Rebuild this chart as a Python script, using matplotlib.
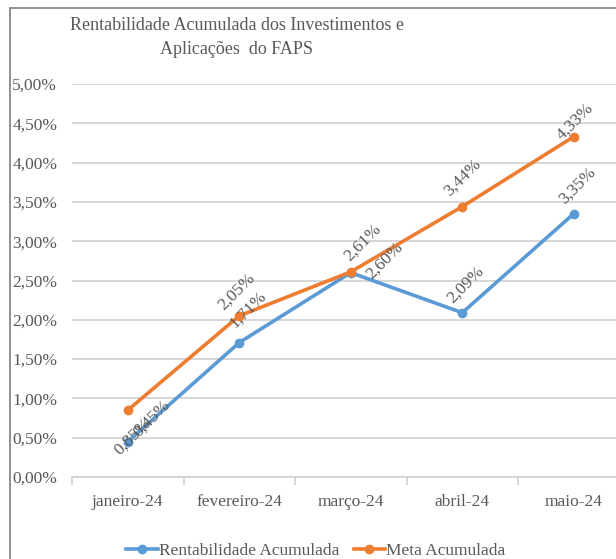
import matplotlib
matplotlib.use("Agg")
import matplotlib.pyplot as plt
from matplotlib.patches import Rectangle
from matplotlib.ticker import FuncFormatter

plt.rcParams['font.family'] = ['Liberation Serif', 'DejaVu Serif']

meses = ['janeiro-24', 'fevereiro-24', 'março-24', 'abril-24', 'maio-24']
rentabilidade = [0.45, 1.71, 2.60, 2.09, 3.35]
meta = [0.85, 2.05, 2.61, 3.44, 4.33]

# label offsets in pixels (dx, dy), as placed in the original
off_rent = [(24, 23), (9, 33), (34, 12), (3, 28), (4, 28)]
off_meta = [(5, -26), (-3, 24), (12, 29), (0, 29), (1, 15)]

azul = '#5B9BD5'
laranja = '#ED7D31'
cinza = '#595959'
grade = '#CFCFCF'

W, H = 616, 559
fig = plt.figure(figsize=(W / 100, H / 100), dpi=100)

# chart border (only left and top edges visible in the crop)
fig.patches.append(Rectangle((10 / W, -0.1), 1.2, (H - 8) / H + 0.1,
                             transform=fig.transFigure, fill=False,
                             edgecolor='#7f7f7f', linewidth=1.2))

ax = fig.add_axes([72 / W, (H - 477) / H, 557.5 / W, 393 / H])
x = range(len(meses))

ax.plot(x, rentabilidade, color=azul, linewidth=2.6, marker='o',
        markersize=6, label='Rentabilidade Acumulada', zorder=3)
ax.plot(x, meta, color=laranja, linewidth=2.6, marker='o',
        markersize=6, label='Meta Acumulada', zorder=3)

def pct(v):
    return f'{v:.2f}%'.replace('.', ',')

for serie, offs in [(rentabilidade, off_rent), (meta, off_meta)]:
    for i, v in enumerate(serie):
        dx, dy = offs[i]
        ax.annotate(pct(v), (i, v), xytext=(dx * 0.72, dy * 0.72),
                    textcoords='offset points', rotation=45,
                    ha='center', va='center', fontsize=12.5,
                    color=cinza, zorder=4)

ax.set_xlim(-0.5, 4.5)
ax.set_ylim(0, 5)
ax.set_yticks([i * 0.5 for i in range(11)])
ax.yaxis.set_major_formatter(FuncFormatter(lambda v, p: pct(v)))
ax.set_xticks(list(x))
ax.set_xticklabels(meses)
ax.set_xticks([i - 0.5 for i in range(6)], minor=True)
ax.grid(axis='y', color=grade, linewidth=1.2)
ax.set_axisbelow(True)
for s in ['top', 'right', 'left']:
    ax.spines[s].set_visible(False)
ax.spines['bottom'].set_color(grade)
ax.spines['bottom'].set_linewidth(1.2)
ax.tick_params(axis='y', length=0, pad=43, labelsize=12.5, labelcolor=cinza)
ax.tick_params(axis='x', which='major', length=0, pad=12,
               labelsize=12.5, labelcolor=cinza)
ax.tick_params(axis='x', which='minor', length=6, color=grade, width=1.2)
for lbl in ax.get_yticklabels():
    lbl.set_horizontalalignment('left')

fig.text(237 / W, 1 - 25 / H, 'Rentabilidade Acumulada dos Investimentos e',
         ha='center', va='center', fontsize=13, color=cinza)
fig.text(237 / W, 1 - 50 / H, 'Aplicações  do FAPS',
         ha='center', va='center', fontsize=13, color=cinza)

fig.legend(loc='center', bbox_to_anchor=(316 / W, 1 - 551 / H), ncol=2,
           frameon=False, fontsize=12.5, labelcolor=cinza,
           handlelength=1.8, handletextpad=0.1, columnspacing=0.8)

fig.savefig('out.png', dpi=100)
